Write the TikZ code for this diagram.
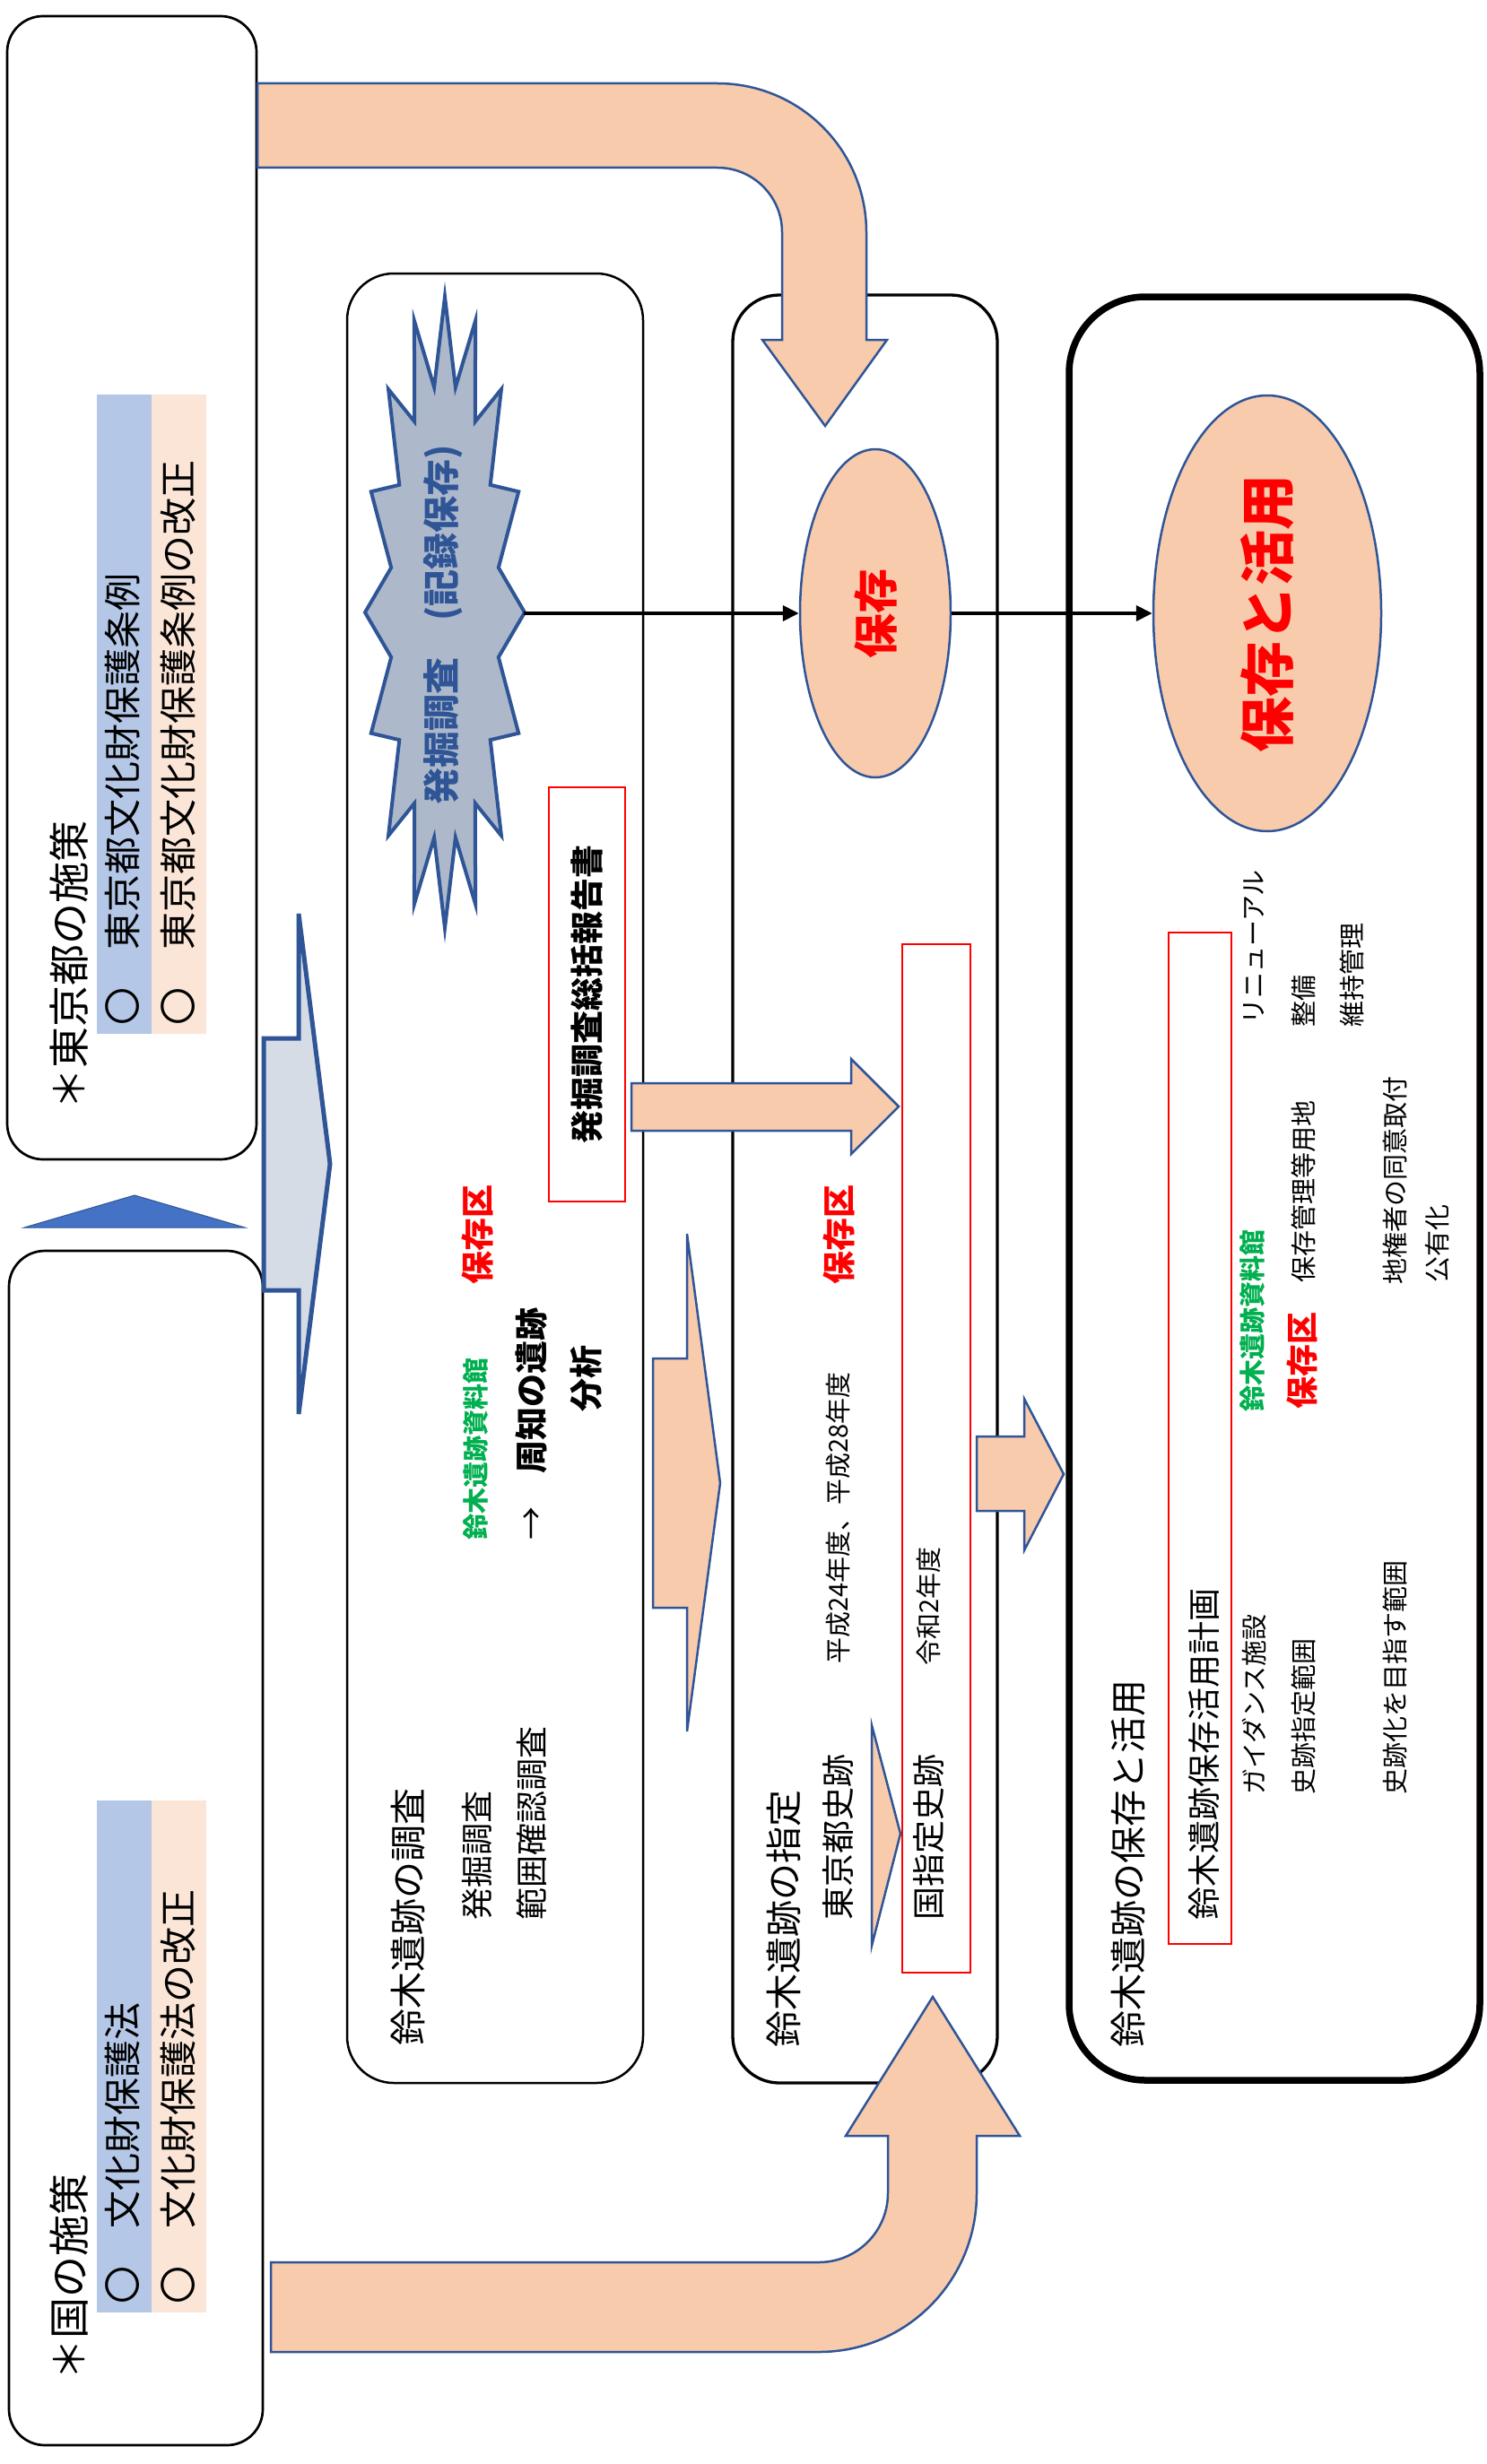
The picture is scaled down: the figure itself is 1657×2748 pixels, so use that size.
\documentclass[tikz,border=0pt]{standalone}
\usepackage{fontspec}
\setmainfont{Noto Sans CJK JP}
\usetikzlibrary{arrows.meta,shapes.geometric}

\definecolor{peach}{HTML}{F8CBAD}
\definecolor{edgeblue}{HTML}{2F5597}
\definecolor{bandblue}{HTML}{B4C7E7}
\definecolor{bandpeach}{HTML}{FBE5D6}
\definecolor{arrowgrey}{HTML}{D6DCE5}
\definecolor{burstgrey}{HTML}{ADB9CA}
\definecolor{triblue}{HTML}{4472C4}
\definecolor{hozonred}{HTML}{FF0000}
\definecolor{kangreen}{HTML}{00B050}

\newcommand{\fsz}[1]{\fontsize{#1}{#1}\selectfont}

\tikzset{
  pbox/.style={draw, rounded corners=40pt, line width=2.7pt, inner sep=0pt},
  sbox/.style={draw, rounded corners=52pt, inner sep=0pt},
  redbox/.style={draw=hozonred, line width=2.5pt, inner sep=0pt},
  lbl/.style={rotate=90, anchor=west, inner sep=0pt},
  blk/.style={fill=peach, draw=edgeblue, line width=2.5pt, line join=miter},
  link/.style={line width=4pt, -{Triangle[length=18pt,width=17pt]}},
  oval/.style={ellipse, fill=peach, draw=edgeblue, line width=2.5pt, inner sep=0pt, rotate=90},
}

\begin{document}
\begin{tikzpicture}[x=1pt,y=-1pt]
\useasboundingbox[fill=white] (0,0) rectangle (1657,2748);

% Policy boxes
\fill[bandblue] (108,440) rectangle (169,1153);
\fill[bandpeach] (169,440) rectangle (230,1153);
\fill[bandblue] (108,2008) rectangle (169,2579);
\fill[bandpeach] (169,2008) rectangle (230,2579);
\node[pbox, minimum width=278pt, minimum height=1275pt] (tokyo) at (147,655.5) {};
\node[pbox, minimum width=283pt, minimum height=1332pt] (kuni) at (151.5,2061) {};
\node[lbl, font=\fsz{46}] (tokyotitle) at (77,1238) {＊東京都の施策};
\node[lbl, font=\fsz{42}] (tokyoa) at (137,1144) {〇　東京都文化財保護条例};
\node[lbl, font=\fsz{42}] (tokyob) at (199,1144) {〇　東京都文化財保護条例の改正};
\node[lbl, font=\fsz{46}] (kunititle) at (77,2655) {＊国の施策};
\node[lbl, font=\fsz{42}] (kunia) at (137,2570) {〇　文化財保護法};
\node[lbl, font=\fsz{42}] (kunib) at (199,2570) {〇　文化財保護法の改正};
\filldraw[fill=triblue, draw=edgeblue, line width=1pt] (27,1369) -- (150,1333) -- (273,1369) -- cycle;

% Stage boxes
\node[sbox, line width=2.5pt, minimum width=330pt, minimum height=2018pt] (chosa) at (552,1314) {};
\node[sbox, line width=3.3pt, minimum width=295pt, minimum height=1994pt] (shitei) at (964.5,1326) {};
\node[draw, rounded corners=85pt, line width=7.5pt, inner sep=0pt, minimum width=458pt, minimum height=1989pt] (katsuyobox) at (1421,1325.5) {};

% Big arrow into the survey
\filldraw[fill=arrowgrey, draw=edgeblue, line width=5pt, line join=miter]
  (294,1158) -- (333,1158) -- (333,1019) -- (368,1298) -- (333,1577) -- (333,1439) -- (294,1439) -- cycle;

% Survey
\filldraw[fill=burstgrey, draw=edgeblue, line width=4pt, line join=miter]
  plot[variable=\j, samples at={0,...,31}]
  ({496+ifthenelse(mod(\j,2)==0,89,61)*cos(\j*11.25)}, {683-ifthenelse(mod(\j,2)==0,352,256)*sin(\j*11.25)}) -- cycle;
\coordinate (bursttip) at (584,684);
\node[rotate=90, inner sep=0pt, text=edgeblue, font=\bfseries\fsz{41}] (burst) at (494,697) {発掘調査　(記録保存)};
\node[redbox, rotate=90, minimum width=462pt, minimum height=85pt, font=\bfseries\fsz{37}] (report) at (654.5,1109) {発掘調査総括報告書};
\node[lbl, font=\fsz{41}] (chosatitle) at (455,2282) {鈴木遺跡の調査};
\node[lbl, font=\fsz{36}] (hakkutsu) at (532,2142) {発掘調査};
\node[lbl, font=\fsz{36}] (hani) at (593,2142) {範囲確認調査};
\node[lbl, font=\bfseries\fsz{29}, text=kangreen] (shiryokan) at (531,1718) {鈴木遺跡資料館};
\node[lbl, font=\fsz{37}] (shuchi) at (593,1718) {→　\bfseries 周知の遺跡};
\node[lbl, font=\bfseries\fsz{37}, text=hozonred] (hozonku) at (532,1433) {保存区};
\node[lbl, font=\bfseries\fsz{37}] (bunseki) at (654,1575) {分析};

% Designation
\node[redbox, minimum width=76pt, minimum height=1147pt] (kokushitei) at (1044,1626.5) {};
\node[lbl, font=\fsz{41}] (shiteititle) at (874,2284) {鈴木遺跡の指定};
\node[lbl, font=\fsz{37}] (toshiseki) at (934,2142) {東京都史跡};
\node[lbl, font=\fsz{29}] (heisei) at (935,1856) {平成24年度、平成28年度};
\node[lbl, font=\bfseries\fsz{37}, text=hozonred] (hozonkub) at (935,1433) {保存区};
\node[lbl, font=\fsz{37}] (kokushiseki) at (1036,2142) {国指定史跡};
\node[lbl, font=\fsz{29}] (reiwa) at (1035,1858) {令和2年度};
\node[oval, minimum width=366pt, minimum height=168pt, text=hozonred, font=\bfseries\fsz{50}] (hozon) at (976,684) {保存};

% Conservation and use
\node[redbox, minimum width=70pt, minimum height=1128pt] (keikaku) at (1338,1604) {};
\node[oval, minimum width=486pt, minimum height=254pt, text=hozonred, font=\bfseries\fsz{62}] (katsuyo) at (1413,684) {保存と活用};
\node[lbl, font=\fsz{41}] (katsuyotitle) at (1258,2284) {鈴木遺跡の保存と活用};
\node[lbl, font=\fsz{37}] (keikakutext) at (1343,2142) {鈴木遺跡保存活用計画};
\node[lbl, font=\fsz{29}] (guidance) at (1398,2002) {ガイダンス施設};
\node[lbl, font=\bfseries\fsz{29}, text=kangreen] (shiryokanb) at (1397,1575) {鈴木遺跡資料館};
\node[lbl, font=\fsz{29}] (renewal) at (1398,1143) {リニューアル};
\node[lbl, font=\fsz{29}] (shitehani) at (1453,2002) {史跡指定範囲};
\node[lbl, font=\bfseries\fsz{36}, text=hozonred] (hozonkuc) at (1452,1572) {保存区};
\node[lbl, font=\fsz{29}] (yochi) at (1453,1431) {保存管理等用地};
\node[lbl, font=\fsz{29}] (seibi) at (1453,1146) {整備};
\node[lbl, font=\fsz{29}] (iji) at (1507,1146) {維持管理};
\node[lbl, font=\fsz{29}] (mezasu) at (1555,2002) {史跡化を目指す範囲};
\node[lbl, font=\fsz{29}] (doi) at (1555,1433) {地権者の同意取付};
\node[lbl, font=\fsz{29}] (koyu) at (1603,1431) {公有化};

% Peach arrows
\filldraw[blk] (287,93) -- (800,93) .. controls (891.7,93) and (966,167.3) .. (966,259)
  -- (966,379) -- (989,379) -- (920,475) -- (850,379) -- (872,379) -- (872,259)
  .. controls (872,219.2) and (839.8,187) .. (800,187) -- (287,187) -- cycle;
\filldraw[blk] (302,2523) -- (913,2523) .. controls (955.5,2523) and (990,2488.5) .. (990,2446)
  -- (990,2382) -- (943,2382) -- (1040,2227) -- (1137,2382) -- (1089,2382) -- (1089,2446)
  .. controls (1089,2543.8) and (1010.8,2623) .. (913,2623) -- (302,2623) -- cycle;
\filldraw[blk] (704,1208) -- (949,1208) -- (949,1181) -- (1002,1234) -- (949,1287) -- (949,1261) -- (704,1261) -- cycle;
\filldraw[blk] (728,1515) -- (766,1515) -- (766,1376) -- (803,1654) -- (766,1931) -- (766,1793) -- (728,1793) -- cycle;
\filldraw[blk] (1089,1602) -- (1142,1602) -- (1142,1560) -- (1186,1644) -- (1142,1729) -- (1142,1685) -- (1089,1685) -- cycle;
\filldraw[blk] (972,1924) -- (1004,2045) -- (972,2170) -- cycle;

% Links
\draw[link] (bursttip) -- (hozon);
\draw[link] (hozon) -- (katsuyo);

\end{tikzpicture}
\end{document}
